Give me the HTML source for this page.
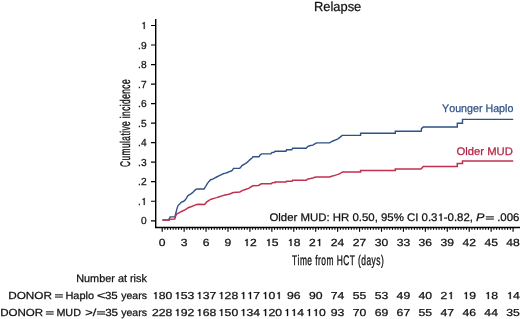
<!DOCTYPE html>
<html><head><meta charset="utf-8"><style>
html,body{margin:0;padding:0;background:#fff;width:520px;height:319px;overflow:hidden}
svg{display:block;will-change:transform}
text{font-family:"Liberation Sans",sans-serif;fill:#111;font-kerning:none;text-rendering:geometricPrecision;stroke:#111;stroke-width:0.25px}
</style></head><body>
<svg width="520" height="319" viewBox="0 0 520 319">
<path d="M155.7 19 V227.5 H520" fill="none" stroke="#000" stroke-width="1.4"/>
<path d="M151 220.78 H155.7 M151 201.25 H155.7 M151 181.72 H155.7 M151 162.19 H155.7 M151 142.66 H155.7 M151 123.13 H155.7 M151 103.60 H155.7 M151 84.07 H155.7 M151 64.54 H155.7 M151 45.01 H155.7 M151 25.48 H155.7" stroke="#000" stroke-width="1.2"/>
<path d="M162.20 227.5 V231.8 M184.13 227.5 V231.8 M206.06 227.5 V231.8 M227.99 227.5 V231.8 M249.92 227.5 V231.8 M271.85 227.5 V231.8 M293.78 227.5 V231.8 M315.71 227.5 V231.8 M337.64 227.5 V231.8 M359.57 227.5 V231.8 M381.50 227.5 V231.8 M403.43 227.5 V231.8 M425.36 227.5 V231.8 M447.29 227.5 V231.8 M469.22 227.5 V231.8 M491.15 227.5 V231.8 M513.08 227.5 V231.8" stroke="#000" stroke-width="1.15"/>
<path d="M164.94 227.5 V229.9 M167.68 227.5 V229.9 M170.42 227.5 V229.9 M173.16 227.5 V229.9 M175.91 227.5 V229.9 M178.65 227.5 V229.9 M181.39 227.5 V229.9 M186.87 227.5 V229.9 M189.61 227.5 V229.9 M192.35 227.5 V229.9 M195.09 227.5 V229.9 M197.84 227.5 V229.9 M200.58 227.5 V229.9 M203.32 227.5 V229.9 M208.80 227.5 V229.9 M211.54 227.5 V229.9 M214.28 227.5 V229.9 M217.02 227.5 V229.9 M219.77 227.5 V229.9 M222.51 227.5 V229.9 M225.25 227.5 V229.9 M230.73 227.5 V229.9 M233.47 227.5 V229.9 M236.21 227.5 V229.9 M238.95 227.5 V229.9 M241.70 227.5 V229.9 M244.44 227.5 V229.9 M247.18 227.5 V229.9 M252.66 227.5 V229.9 M255.40 227.5 V229.9 M258.14 227.5 V229.9 M260.88 227.5 V229.9 M263.63 227.5 V229.9 M266.37 227.5 V229.9 M269.11 227.5 V229.9 M274.59 227.5 V229.9 M277.33 227.5 V229.9 M280.07 227.5 V229.9 M282.81 227.5 V229.9 M285.56 227.5 V229.9 M288.30 227.5 V229.9 M291.04 227.5 V229.9 M296.52 227.5 V229.9 M299.26 227.5 V229.9 M302.00 227.5 V229.9 M304.75 227.5 V229.9 M307.49 227.5 V229.9 M310.23 227.5 V229.9 M312.97 227.5 V229.9 M318.45 227.5 V229.9 M321.19 227.5 V229.9 M323.93 227.5 V229.9 M326.67 227.5 V229.9 M329.42 227.5 V229.9 M332.16 227.5 V229.9 M334.90 227.5 V229.9 M340.38 227.5 V229.9 M343.12 227.5 V229.9 M345.86 227.5 V229.9 M348.61 227.5 V229.9 M351.35 227.5 V229.9 M354.09 227.5 V229.9 M356.83 227.5 V229.9 M362.31 227.5 V229.9 M365.05 227.5 V229.9 M367.79 227.5 V229.9 M370.53 227.5 V229.9 M373.28 227.5 V229.9 M376.02 227.5 V229.9 M378.76 227.5 V229.9 M384.24 227.5 V229.9 M386.98 227.5 V229.9 M389.72 227.5 V229.9 M392.46 227.5 V229.9 M395.21 227.5 V229.9 M397.95 227.5 V229.9 M400.69 227.5 V229.9 M406.17 227.5 V229.9 M408.91 227.5 V229.9 M411.65 227.5 V229.9 M414.39 227.5 V229.9 M417.14 227.5 V229.9 M419.88 227.5 V229.9 M422.62 227.5 V229.9 M428.10 227.5 V229.9 M430.84 227.5 V229.9 M433.58 227.5 V229.9 M436.32 227.5 V229.9 M439.07 227.5 V229.9 M441.81 227.5 V229.9 M444.55 227.5 V229.9 M450.03 227.5 V229.9 M452.77 227.5 V229.9 M455.51 227.5 V229.9 M458.25 227.5 V229.9 M461.00 227.5 V229.9 M463.74 227.5 V229.9 M466.48 227.5 V229.9 M471.96 227.5 V229.9 M474.70 227.5 V229.9 M477.44 227.5 V229.9 M480.18 227.5 V229.9 M482.93 227.5 V229.9 M485.67 227.5 V229.9 M488.41 227.5 V229.9 M493.89 227.5 V229.9 M496.63 227.5 V229.9 M499.37 227.5 V229.9 M502.11 227.5 V229.9 M504.86 227.5 V229.9 M507.60 227.5 V229.9 M510.34 227.5 V229.9" stroke="#000" stroke-width="1.0"/>
<text x="140.93" y="224" style="font-size:10.2px;" textLength="5.67" lengthAdjust="spacingAndGlyphs">0</text>
<text x="138.09" y="205" style="font-size:10.2px;" textLength="8.51" lengthAdjust="spacingAndGlyphs">. </text>
<text x="138.09" y="185" style="font-size:10.2px;" textLength="8.51" lengthAdjust="spacingAndGlyphs">.2</text>
<text x="138.09" y="166" style="font-size:10.2px;" textLength="8.51" lengthAdjust="spacingAndGlyphs">.3</text>
<text x="138.09" y="146" style="font-size:10.2px;" textLength="8.51" lengthAdjust="spacingAndGlyphs">.4</text>
<text x="138.09" y="127" style="font-size:10.2px;" textLength="8.51" lengthAdjust="spacingAndGlyphs">.5</text>
<text x="138.09" y="107" style="font-size:10.2px;" textLength="8.51" lengthAdjust="spacingAndGlyphs">.6</text>
<text x="138.09" y="88" style="font-size:10.2px;" textLength="8.51" lengthAdjust="spacingAndGlyphs">.7</text>
<text x="138.09" y="68" style="font-size:10.2px;" textLength="8.51" lengthAdjust="spacingAndGlyphs">.8</text>
<text x="138.09" y="49" style="font-size:10.2px;" textLength="8.51" lengthAdjust="spacingAndGlyphs">.9</text>
<text x="140.93" y="29" style="font-size:10.2px;" textLength="5.67" lengthAdjust="spacingAndGlyphs"> </text>
<text x="158.82" y="246" style="font-size:10.3px;" textLength="6.75" lengthAdjust="spacingAndGlyphs">0</text>
<text x="180.75" y="246" style="font-size:10.3px;" textLength="6.75" lengthAdjust="spacingAndGlyphs">3</text>
<text x="202.69" y="246" style="font-size:10.3px;" textLength="6.75" lengthAdjust="spacingAndGlyphs">6</text>
<text x="224.61" y="246" style="font-size:10.3px;" textLength="6.75" lengthAdjust="spacingAndGlyphs">9</text>
<text x="243.17" y="246" style="font-size:10.3px;" textLength="13.50" lengthAdjust="spacingAndGlyphs"> 2</text>
<text x="265.10" y="246" style="font-size:10.3px;" textLength="13.50" lengthAdjust="spacingAndGlyphs"> 5</text>
<text x="287.03" y="246" style="font-size:10.3px;" textLength="13.50" lengthAdjust="spacingAndGlyphs"> 8</text>
<text x="308.96" y="246" style="font-size:10.3px;" textLength="13.50" lengthAdjust="spacingAndGlyphs">2 </text>
<text x="330.89" y="246" style="font-size:10.3px;" textLength="13.50" lengthAdjust="spacingAndGlyphs">24</text>
<text x="352.82" y="246" style="font-size:10.3px;" textLength="13.50" lengthAdjust="spacingAndGlyphs">27</text>
<text x="374.75" y="246" style="font-size:10.3px;" textLength="13.50" lengthAdjust="spacingAndGlyphs">30</text>
<text x="396.68" y="246" style="font-size:10.3px;" textLength="13.50" lengthAdjust="spacingAndGlyphs">33</text>
<text x="418.61" y="246" style="font-size:10.3px;" textLength="13.50" lengthAdjust="spacingAndGlyphs">36</text>
<text x="440.54" y="246" style="font-size:10.3px;" textLength="13.50" lengthAdjust="spacingAndGlyphs">39</text>
<text x="462.47" y="246" style="font-size:10.3px;" textLength="13.50" lengthAdjust="spacingAndGlyphs">42</text>
<text x="484.40" y="246" style="font-size:10.3px;" textLength="13.50" lengthAdjust="spacingAndGlyphs">45</text>
<text x="506.33" y="246" style="font-size:10.3px;" textLength="13.50" lengthAdjust="spacingAndGlyphs">48</text>
<polyline points="162.4,220.1 169.0,220.1 169.3,218.5 170.2,216.9 174.9,216.9 176.0,212.5 177.1,208.1 178.2,205.3 179.9,203.7 181.5,202.0 183.2,201.5 184.8,200.4 186.5,198.2 187.6,196.0 189.2,194.9 190.9,193.8 192.5,192.7 194.2,191.0 195.8,189.4 197.5,189.0 204.0,189.0 205.7,186.3 207.3,183.6 209.0,181.4 210.6,179.7 212.8,179.2 214.5,178.1 216.7,177.0 218.8,175.9 221.0,174.8 223.2,173.7 225.4,173.2 227.5,172.5 229.4,171.6 231.3,171.0 232.5,170.0 233.5,168.4 239.7,168.3 240.7,167.2 241.9,165.6 244.9,163.8 246.8,162.6 248.6,161.0 250.2,159.4 251.8,158.2 253.0,156.7 259.0,156.7 259.9,155.3 261.5,153.9 270.8,153.9 271.9,152.5 274.0,152.3 275.1,151.2 286.0,151.2 286.6,149.8 291.7,149.8 292.6,148.3 306.1,148.3 308.0,146.3 310.4,145.5 312.8,145.1 314.8,143.9 316.7,142.9 329.7,142.9 331.6,141.5 334.0,140.5 336.4,139.7 338.3,138.6 340.2,137.1 342.2,135.4 360.6,135.3 360.6,133.3 395.3,133.3 395.3,131.2 421.2,131.2 421.5,128.7 423.3,127.0 457.3,127.0 457.3,123.3 462.5,123.3 462.5,119.4 513.2,119.4" fill="none" stroke="#2f5088" stroke-width="1.4"/>
<polyline points="162.4,220.1 169.3,220.1 169.5,219.2 174.8,219.0 175.5,216.3 176.7,214.0 179.7,212.4 182.5,211.0 185.4,209.6 188.2,207.7 191.0,206.8 193.8,205.6 196.6,204.6 199.0,204.3 204.6,204.4 206.8,201.9 209.0,200.3 211.2,199.2 213.9,198.4 216.7,197.6 219.4,196.7 222.1,195.9 224.9,195.1 227.6,194.5 230.4,193.7 233.3,192.5 239.9,192.0 242.1,190.6 245.4,189.5 248.7,188.4 250.8,187.0 253.0,185.7 258.5,185.4 261.3,183.8 271.2,183.8 272.3,182.8 275.1,182.6 275.1,182.0 286.0,182.0 286.6,181.2 292.1,181.2 292.6,180.3 306.1,180.3 308.0,178.9 310.4,178.5 312.8,178.0 314.8,177.3 316.7,177.0 329.7,177.0 331.6,176.3 334.0,175.6 336.4,174.9 338.8,174.1 340.7,173.2 342.6,171.9 360.6,171.9 360.6,170.6 395.3,170.6 395.3,169.1 421.0,169.1 423.3,166.4 457.3,166.4 457.3,163.6 462.5,163.6 462.5,161.0 513.2,161.0" fill="none" stroke="#c0304e" stroke-width="1.5"/>
<text x="442.07" y="112" style="font-size:11px;fill:#2f5087;stroke:#2f5087;" textLength="71.28" lengthAdjust="spacingAndGlyphs">Younger Haplo</text>
<text x="456.57" y="155" style="font-size:11px;fill:#b42443;stroke:#b42443;" textLength="56.27" lengthAdjust="spacingAndGlyphs">Older MUD</text>
<text x="314.04" y="11" style="font-size:13.2px;" textLength="47.23" lengthAdjust="spacingAndGlyphs">Relapse</text>
<text x="269.46" y="221" style="font-size:11px;" textLength="203.46" lengthAdjust="spacingAndGlyphs">Older MUD: HR 0.50, 95% CI 0.3 -0.82,</text>
<text x="475.91" y="221" style="font-size:11px;font-style:italic;" textLength="8.47" lengthAdjust="spacingAndGlyphs">P</text>
<rect x="485.8" y="216.20" width="8.10" height="1.25" fill="#3a3a3a"/>
<rect x="485.8" y="218.45" width="8.10" height="1.25" fill="#3a3a3a"/>
<text x="497.16" y="221" style="font-size:11px;" textLength="22.25" lengthAdjust="spacingAndGlyphs">.006</text>
<text transform="translate(292.01 265) scale(0.6 1)" x="0" y="0" style="font-size:14px;stroke-width:0.35px;letter-spacing:0.758px">Time from HCT (days)</text>
<text transform="translate(130 166.93) rotate(-90) scale(0.6 1)" x="0" y="0" style="font-size:14px;stroke-width:0.35px;letter-spacing:0.672px">Cumulative incidence</text>
<text x="76.21" y="282" style="font-size:10.9px;" textLength="70.68" lengthAdjust="spacingAndGlyphs">Number at risk</text>
<text x="8.23" y="299" style="font-size:10.3px;" textLength="43.81" lengthAdjust="spacingAndGlyphs">DONOR</text>
<rect x="55.0" y="294.20" width="7.90" height="1.25" fill="#3a3a3a"/>
<rect x="55.0" y="296.45" width="7.90" height="1.25" fill="#3a3a3a"/>
<text x="65.40" y="299" style="font-size:10.3px;" textLength="28.66" lengthAdjust="spacingAndGlyphs">Haplo</text>
<text x="97.00" y="299" style="font-size:10.3px;" textLength="8.29" lengthAdjust="spacingAndGlyphs">&lt;</text>
<text x="104.96" y="299" style="font-size:10.3px;" textLength="12.82" lengthAdjust="spacingAndGlyphs">35</text>
<text x="121.27" y="299" style="font-size:10.3px;" textLength="25.71" lengthAdjust="spacingAndGlyphs">years</text>
<text x="0.20" y="316" style="font-size:10.3px;" textLength="43.03" lengthAdjust="spacingAndGlyphs">DONOR</text>
<rect x="45.9" y="311.20" width="7.80" height="1.25" fill="#3a3a3a"/>
<rect x="45.9" y="313.45" width="7.80" height="1.25" fill="#3a3a3a"/>
<text x="56.42" y="316" style="font-size:10.3px;" textLength="24.50" lengthAdjust="spacingAndGlyphs">MUD</text>
<text x="85.17" y="316" style="font-size:10.3px;" textLength="11.03" lengthAdjust="spacingAndGlyphs">&gt;/</text>
<rect x="97.0" y="311.20" width="8.10" height="1.25" fill="#3a3a3a"/>
<rect x="97.0" y="313.45" width="8.10" height="1.25" fill="#3a3a3a"/>
<text x="105.16" y="316" style="font-size:10.3px;" textLength="12.93" lengthAdjust="spacingAndGlyphs">35</text>
<text x="121.27" y="316" style="font-size:10.3px;" textLength="25.71" lengthAdjust="spacingAndGlyphs">years</text>
<text x="152.00" y="299" style="font-size:10.1px;" textLength="20.40" lengthAdjust="spacingAndGlyphs"> 80</text>
<text x="152.00" y="316" style="font-size:10.1px;" textLength="20.40" lengthAdjust="spacingAndGlyphs">228</text>
<text x="173.93" y="299" style="font-size:10.1px;" textLength="20.40" lengthAdjust="spacingAndGlyphs"> 53</text>
<text x="173.93" y="316" style="font-size:10.1px;" textLength="20.40" lengthAdjust="spacingAndGlyphs"> 92</text>
<text x="195.86" y="299" style="font-size:10.1px;" textLength="20.40" lengthAdjust="spacingAndGlyphs"> 37</text>
<text x="195.86" y="316" style="font-size:10.1px;" textLength="20.40" lengthAdjust="spacingAndGlyphs"> 68</text>
<text x="217.79" y="299" style="font-size:10.1px;" textLength="20.40" lengthAdjust="spacingAndGlyphs"> 28</text>
<text x="217.79" y="316" style="font-size:10.1px;" textLength="20.40" lengthAdjust="spacingAndGlyphs"> 50</text>
<text x="239.72" y="299" style="font-size:10.1px;" textLength="20.40" lengthAdjust="spacingAndGlyphs">  7</text>
<text x="239.72" y="316" style="font-size:10.1px;" textLength="20.40" lengthAdjust="spacingAndGlyphs"> 34</text>
<text x="261.65" y="299" style="font-size:10.1px;" textLength="20.40" lengthAdjust="spacingAndGlyphs"> 0 </text>
<text x="261.65" y="316" style="font-size:10.1px;" textLength="20.40" lengthAdjust="spacingAndGlyphs"> 20</text>
<text x="286.98" y="299" style="font-size:10.1px;" textLength="13.60" lengthAdjust="spacingAndGlyphs">96</text>
<text x="283.58" y="316" style="font-size:10.1px;" textLength="20.40" lengthAdjust="spacingAndGlyphs">  4</text>
<text x="308.91" y="299" style="font-size:10.1px;" textLength="13.60" lengthAdjust="spacingAndGlyphs">90</text>
<text x="305.51" y="316" style="font-size:10.1px;" textLength="20.40" lengthAdjust="spacingAndGlyphs">  0</text>
<text x="330.84" y="299" style="font-size:10.1px;" textLength="13.60" lengthAdjust="spacingAndGlyphs">74</text>
<text x="330.84" y="316" style="font-size:10.1px;" textLength="13.60" lengthAdjust="spacingAndGlyphs">93</text>
<text x="352.77" y="299" style="font-size:10.1px;" textLength="13.60" lengthAdjust="spacingAndGlyphs">55</text>
<text x="352.77" y="316" style="font-size:10.1px;" textLength="13.60" lengthAdjust="spacingAndGlyphs">70</text>
<text x="374.70" y="299" style="font-size:10.1px;" textLength="13.60" lengthAdjust="spacingAndGlyphs">53</text>
<text x="374.70" y="316" style="font-size:10.1px;" textLength="13.60" lengthAdjust="spacingAndGlyphs">69</text>
<text x="396.63" y="299" style="font-size:10.1px;" textLength="13.60" lengthAdjust="spacingAndGlyphs">49</text>
<text x="396.63" y="316" style="font-size:10.1px;" textLength="13.60" lengthAdjust="spacingAndGlyphs">67</text>
<text x="418.56" y="299" style="font-size:10.1px;" textLength="13.60" lengthAdjust="spacingAndGlyphs">40</text>
<text x="418.56" y="316" style="font-size:10.1px;" textLength="13.60" lengthAdjust="spacingAndGlyphs">55</text>
<text x="440.49" y="299" style="font-size:10.1px;" textLength="13.60" lengthAdjust="spacingAndGlyphs">2 </text>
<text x="440.49" y="316" style="font-size:10.1px;" textLength="13.60" lengthAdjust="spacingAndGlyphs">47</text>
<text x="462.42" y="299" style="font-size:10.1px;" textLength="13.60" lengthAdjust="spacingAndGlyphs"> 9</text>
<text x="462.42" y="316" style="font-size:10.1px;" textLength="13.60" lengthAdjust="spacingAndGlyphs">46</text>
<text x="484.35" y="299" style="font-size:10.1px;" textLength="13.60" lengthAdjust="spacingAndGlyphs"> 8</text>
<text x="484.35" y="316" style="font-size:10.1px;" textLength="13.60" lengthAdjust="spacingAndGlyphs">44</text>
<text x="506.28" y="299" style="font-size:10.1px;" textLength="13.60" lengthAdjust="spacingAndGlyphs"> 4</text>
<text x="506.28" y="316" style="font-size:10.1px;" textLength="13.60" lengthAdjust="spacingAndGlyphs">35</text>
<path d="M570 0L570 1040L320 1040L320 1180C450 1185 560 1250 590 1409L755 1409L755 0Z" transform="translate(140.93 205) scale(0.00498 -0.00498)" fill="#111" stroke="#111" stroke-width="0.25" vector-effect="non-scaling-stroke"/>
<path d="M570 0L570 1040L320 1040L320 1180C450 1185 560 1250 590 1409L755 1409L755 0Z" transform="translate(140.93 29) scale(0.00498 -0.00498)" fill="#111" stroke="#111" stroke-width="0.25" vector-effect="non-scaling-stroke"/>
<path d="M570 0L570 1040L320 1040L320 1180C450 1185 560 1250 590 1409L755 1409L755 0Z" transform="translate(243.17 246) scale(0.00593 -0.00503)" fill="#111" stroke="#111" stroke-width="0.25" vector-effect="non-scaling-stroke"/>
<path d="M570 0L570 1040L320 1040L320 1180C450 1185 560 1250 590 1409L755 1409L755 0Z" transform="translate(265.10 246) scale(0.00593 -0.00503)" fill="#111" stroke="#111" stroke-width="0.25" vector-effect="non-scaling-stroke"/>
<path d="M570 0L570 1040L320 1040L320 1180C450 1185 560 1250 590 1409L755 1409L755 0Z" transform="translate(287.03 246) scale(0.00593 -0.00503)" fill="#111" stroke="#111" stroke-width="0.25" vector-effect="non-scaling-stroke"/>
<path d="M570 0L570 1040L320 1040L320 1180C450 1185 560 1250 590 1409L755 1409L755 0Z" transform="translate(315.71 246) scale(0.00593 -0.00503)" fill="#111" stroke="#111" stroke-width="0.25" vector-effect="non-scaling-stroke"/>
<path d="M570 0L570 1040L320 1040L320 1180C450 1185 560 1250 590 1409L755 1409L755 0Z" transform="translate(437.42 221) scale(0.00557 -0.00537)" fill="#111" stroke="#111" stroke-width="0.25" vector-effect="non-scaling-stroke"/>
<path d="M570 0L570 1040L320 1040L320 1180C450 1185 560 1250 590 1409L755 1409L755 0Z" transform="translate(152.00 299) scale(0.00597 -0.00493)" fill="#111" stroke="#111" stroke-width="0.25" vector-effect="non-scaling-stroke"/>
<path d="M570 0L570 1040L320 1040L320 1180C450 1185 560 1250 590 1409L755 1409L755 0Z" transform="translate(173.93 299) scale(0.00597 -0.00493)" fill="#111" stroke="#111" stroke-width="0.25" vector-effect="non-scaling-stroke"/>
<path d="M570 0L570 1040L320 1040L320 1180C450 1185 560 1250 590 1409L755 1409L755 0Z" transform="translate(173.93 316) scale(0.00597 -0.00493)" fill="#111" stroke="#111" stroke-width="0.25" vector-effect="non-scaling-stroke"/>
<path d="M570 0L570 1040L320 1040L320 1180C450 1185 560 1250 590 1409L755 1409L755 0Z" transform="translate(195.86 299) scale(0.00597 -0.00493)" fill="#111" stroke="#111" stroke-width="0.25" vector-effect="non-scaling-stroke"/>
<path d="M570 0L570 1040L320 1040L320 1180C450 1185 560 1250 590 1409L755 1409L755 0Z" transform="translate(195.86 316) scale(0.00597 -0.00493)" fill="#111" stroke="#111" stroke-width="0.25" vector-effect="non-scaling-stroke"/>
<path d="M570 0L570 1040L320 1040L320 1180C450 1185 560 1250 590 1409L755 1409L755 0Z" transform="translate(217.79 299) scale(0.00597 -0.00493)" fill="#111" stroke="#111" stroke-width="0.25" vector-effect="non-scaling-stroke"/>
<path d="M570 0L570 1040L320 1040L320 1180C450 1185 560 1250 590 1409L755 1409L755 0Z" transform="translate(217.79 316) scale(0.00597 -0.00493)" fill="#111" stroke="#111" stroke-width="0.25" vector-effect="non-scaling-stroke"/>
<path d="M570 0L570 1040L320 1040L320 1180C450 1185 560 1250 590 1409L755 1409L755 0Z" transform="translate(239.72 299) scale(0.00597 -0.00493)" fill="#111" stroke="#111" stroke-width="0.25" vector-effect="non-scaling-stroke"/>
<path d="M570 0L570 1040L320 1040L320 1180C450 1185 560 1250 590 1409L755 1409L755 0Z" transform="translate(246.52 299) scale(0.00597 -0.00493)" fill="#111" stroke="#111" stroke-width="0.25" vector-effect="non-scaling-stroke"/>
<path d="M570 0L570 1040L320 1040L320 1180C450 1185 560 1250 590 1409L755 1409L755 0Z" transform="translate(239.72 316) scale(0.00597 -0.00493)" fill="#111" stroke="#111" stroke-width="0.25" vector-effect="non-scaling-stroke"/>
<path d="M570 0L570 1040L320 1040L320 1180C450 1185 560 1250 590 1409L755 1409L755 0Z" transform="translate(261.65 299) scale(0.00597 -0.00493)" fill="#111" stroke="#111" stroke-width="0.25" vector-effect="non-scaling-stroke"/>
<path d="M570 0L570 1040L320 1040L320 1180C450 1185 560 1250 590 1409L755 1409L755 0Z" transform="translate(275.25 299) scale(0.00597 -0.00493)" fill="#111" stroke="#111" stroke-width="0.25" vector-effect="non-scaling-stroke"/>
<path d="M570 0L570 1040L320 1040L320 1180C450 1185 560 1250 590 1409L755 1409L755 0Z" transform="translate(261.65 316) scale(0.00597 -0.00493)" fill="#111" stroke="#111" stroke-width="0.25" vector-effect="non-scaling-stroke"/>
<path d="M570 0L570 1040L320 1040L320 1180C450 1185 560 1250 590 1409L755 1409L755 0Z" transform="translate(283.58 316) scale(0.00597 -0.00493)" fill="#111" stroke="#111" stroke-width="0.25" vector-effect="non-scaling-stroke"/>
<path d="M570 0L570 1040L320 1040L320 1180C450 1185 560 1250 590 1409L755 1409L755 0Z" transform="translate(290.38 316) scale(0.00597 -0.00493)" fill="#111" stroke="#111" stroke-width="0.25" vector-effect="non-scaling-stroke"/>
<path d="M570 0L570 1040L320 1040L320 1180C450 1185 560 1250 590 1409L755 1409L755 0Z" transform="translate(305.51 316) scale(0.00597 -0.00493)" fill="#111" stroke="#111" stroke-width="0.25" vector-effect="non-scaling-stroke"/>
<path d="M570 0L570 1040L320 1040L320 1180C450 1185 560 1250 590 1409L755 1409L755 0Z" transform="translate(312.31 316) scale(0.00597 -0.00493)" fill="#111" stroke="#111" stroke-width="0.25" vector-effect="non-scaling-stroke"/>
<path d="M570 0L570 1040L320 1040L320 1180C450 1185 560 1250 590 1409L755 1409L755 0Z" transform="translate(447.29 299) scale(0.00597 -0.00493)" fill="#111" stroke="#111" stroke-width="0.25" vector-effect="non-scaling-stroke"/>
<path d="M570 0L570 1040L320 1040L320 1180C450 1185 560 1250 590 1409L755 1409L755 0Z" transform="translate(462.42 299) scale(0.00597 -0.00493)" fill="#111" stroke="#111" stroke-width="0.25" vector-effect="non-scaling-stroke"/>
<path d="M570 0L570 1040L320 1040L320 1180C450 1185 560 1250 590 1409L755 1409L755 0Z" transform="translate(484.35 299) scale(0.00597 -0.00493)" fill="#111" stroke="#111" stroke-width="0.25" vector-effect="non-scaling-stroke"/>
<path d="M570 0L570 1040L320 1040L320 1180C450 1185 560 1250 590 1409L755 1409L755 0Z" transform="translate(506.28 299) scale(0.00597 -0.00493)" fill="#111" stroke="#111" stroke-width="0.25" vector-effect="non-scaling-stroke"/>
</svg>
</body></html>
